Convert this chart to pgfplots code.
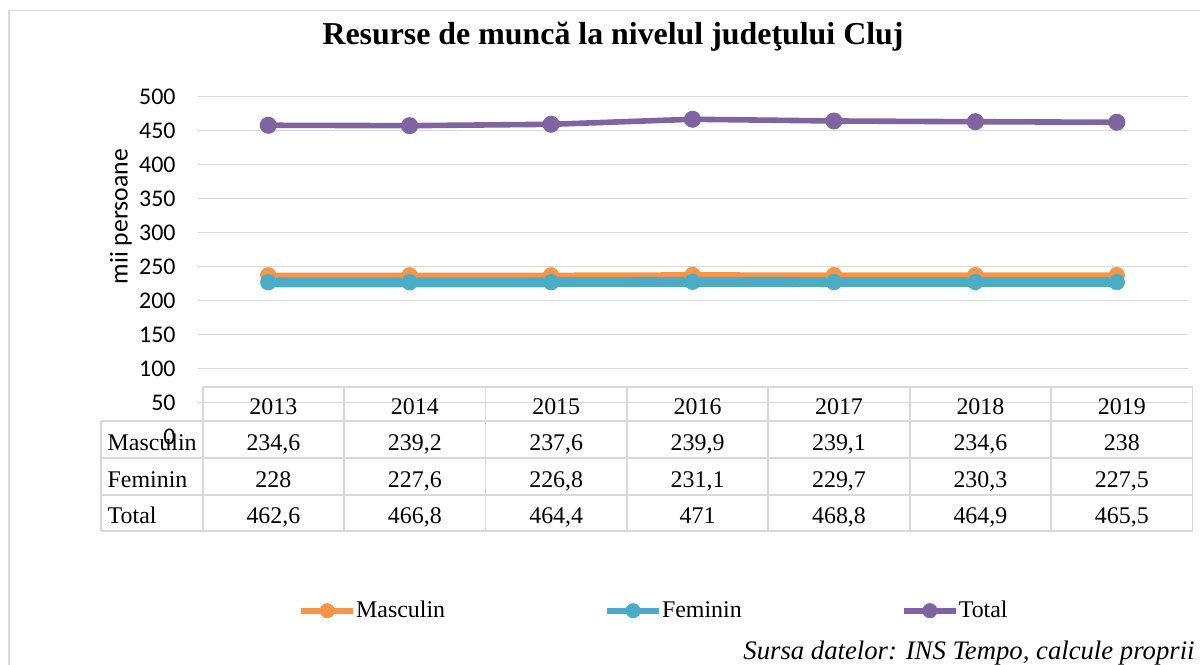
\documentclass[border=0pt]{standalone}
\usepackage{fontspec}
\setmainfont{Liberation Serif}
\newfontfamily\calibri{Carlito}
\usepackage{pgfplots}
\usepackage{pgfplotstable}
\pgfplotsset{compat=1.18}

\definecolor{cM}{HTML}{F79646}
\definecolor{cF}{HTML}{4BACC6}
\definecolor{cT}{HTML}{8064A2}
\definecolor{gridc}{HTML}{D9D9D9}

% values as drawn by the lines (x: 0=2013 ... 6=2019)
\pgfplotstableread{
x M F T
0 237.4 227.1 458.0
1 237.4 227.1 457.4
2 237.4 227.1 459.4
3 238.0 227.8 466.8
4 237.6 227.4 464.3
5 237.6 227.4 463.2
6 237.6 227.3 462.4
}\resurse

\begin{document}
\begin{tikzpicture}[x=0.5bp,y=0.5bp]
\useasboundingbox (0,0) rectangle (1200,664);
\clip (0,0) rectangle (1200,664);
\draw[gridc, line width=0.8bp] (9,664-10.7) rectangle (1220,-30);

\node[anchor=base, font=\bfseries\fontsize{16}{19}\selectfont] at (613,664-45)
  {Resurse de muncă la nivelul judeţului Cluj};

\node[rotate=90, anchor=base, inner sep=0pt, font=\calibri\fontsize{12.9}{15}\selectfont] at (127.7,664-216.7) {mii persoane};

\coordinate (axo) at (197.5,664-436.7);

\begin{axis}[
  at={(axo)}, anchor=south west,
  scale only axis, width=495bp, height=170bp,
  xmin=-0.5, xmax=6.5, ymin=0, ymax=500,
  axis line style={draw=none},
  major tick length=0pt,
  xtick=\empty,
  ytick={50,100,...,500},
  extra y ticks={0},
  extra y tick style={grid=none},
  ymajorgrids,
  grid style={gridc, line width=0.7bp},
  yticklabel style={font=\calibri\fontsize{12}{14}\selectfont, anchor=east, inner sep=0pt, xshift=-10.75bp},
  /pgf/number format/assume math mode=true,
  clip=false,
  legend columns=3,
  legend style={at={(0.1015,-0.5118)}, anchor=west, draw=none, fill=none, inner sep=0pt,
    font=\fontsize{12}{14}\selectfont,
    nodes={inner sep=0pt},
    /tikz/every even column/.append style={column sep=3bp}},
  legend image code/.code={\draw[#1, line width=2.9bp, mark size=3.5bp, mark repeat=2, mark phase=2]
    plot coordinates {(0bp,0bp)(13bp,0bp)(26bp,0bp)};},
]
\addplot[cM, line width=2.7bp, mark=*, mark size=3.8bp, mark options={solid, fill=cM, line width=0.5bp}] table[x=x, y=M] {\resurse};
\addlegendentry{\makebox[121bp][l]{Masculin}}
\addplot[cF, line width=5bp, mark=*, mark size=3.8bp, mark options={solid, fill=cF, line width=0.5bp}] table[x=x, y=F] {\resurse};
\addlegendentry{\makebox[116.5bp][l]{Feminin}}
\addplot[cT, line width=2.8bp, mark=*, mark size=4bp, mark options={solid, fill=cT, line width=0.5bp}] table[x=x, y=T] {\resurse};
\addlegendentry{Total}
\end{axis}

% data table under the plot
\begin{scope}[gridc, line width=0.9bp]
\draw (202.7,664-387.3) -- (1192.5,664-387.3);
\foreach \yy in {421,458.3,495,530.7} \draw (101,664-\yy) -- (1192.5,664-\yy);
\draw (101,664-421) -- (101,664-530.7);
\foreach \k in {0,...,7} \draw ({202.7+141.4*\k},664-387.3) -- ({202.7+141.4*\k},664-530.7);
\end{scope}
\begin{scope}[font=\fontsize{12}{14}\selectfont, every node/.style={inner sep=0pt}]
\foreach \t [count=\i from 0] in {2013,2014,2015,2016,2017,2018,2019}
  \node[anchor=base] at ({273.4+141.4*\i},664-415) {\t};
\node[anchor=base west] at (107.3,664-450.7) {Masculin};
\node[anchor=base west] at (107.3,664-487.7) {Feminin};
\node[anchor=base west] at (107.3,664-523.9) {Total};
\foreach \t [count=\i from 0] in {{234,6},{239,2},{237,6},{239,9},{239,1},{234,6},{238}}
  \node[anchor=base] at ({273.4+141.4*\i},664-450.7) {\t};
\foreach \t [count=\i from 0] in {{228},{227,6},{226,8},{231,1},{229,7},{230,3},{227,5}}
  \node[anchor=base] at ({273.4+141.4*\i},664-487.7) {\t};
\foreach \t [count=\i from 0] in {{462,6},{466,8},{464,4},{471},{468,8},{464,9},{465,5}}
  \node[anchor=base] at ({273.4+141.4*\i},664-523.9) {\t};
\end{scope}

\node[anchor=base east, inner sep=0pt, font=\itshape\fontsize{13.4}{16}\selectfont] at (1195,664-659)
  {Sursa datelor: INS Tempo, calcule proprii};
\end{tikzpicture}
\end{document}
